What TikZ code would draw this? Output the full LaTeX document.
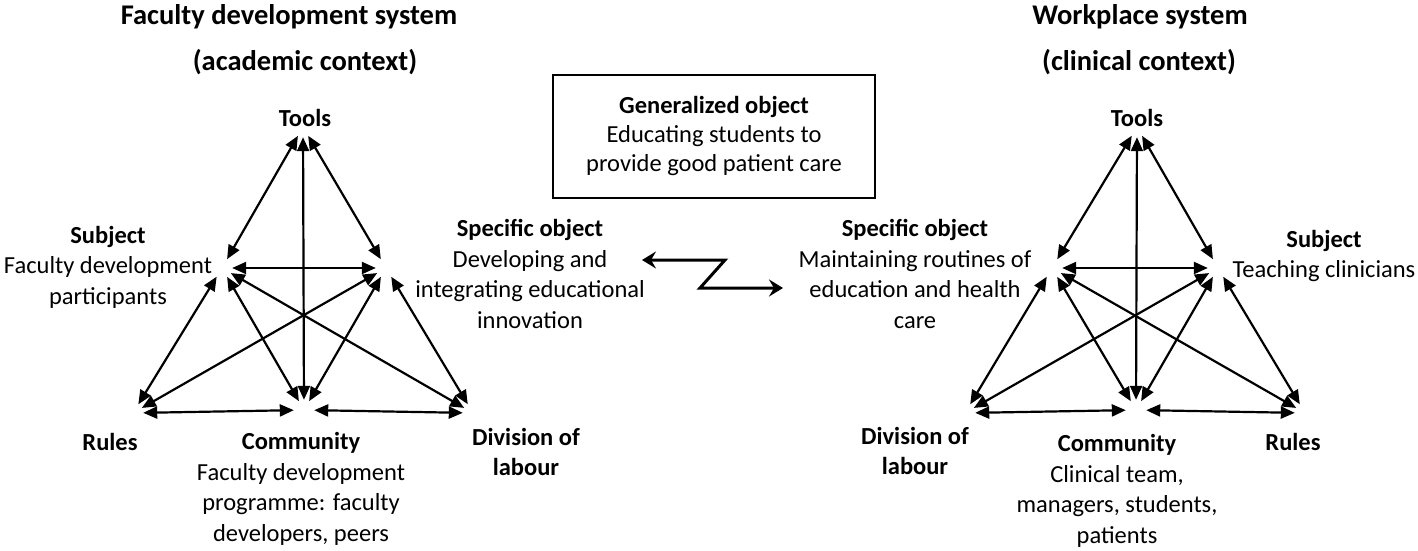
\documentclass[tikz,border=0pt]{standalone}
\usepackage{fontspec}
\setmainfont{Carlito}
\usetikzlibrary{arrows.meta}
\begin{document}
\begin{tikzpicture}[x=1pt,y=-1pt,
  txt/.style={inner sep=0pt,align=center,font=\fontsize{24.5}{30.5}\selectfont},
  ttl/.style={inner sep=0pt,font=\fontsize{28.5}{32}\selectfont\bfseries},
  vtx/.style={circle,inner sep=0pt,minimum size=20pt},
  arr/.style={line width=2.2pt,{Triangle[length=14pt,width=12pt]}-{Triangle[length=14pt,width=12pt]}},
  zz/.style={line width=3pt,line join=miter,{Stealth[length=14pt,width=17pt,inset=5pt]}-{Stealth[length=14pt,width=17pt,inset=5pt]}},
  boxst/.style={draw,line width=2pt,inner sep=0pt,minimum width=322pt,minimum height=123pt,align=center,font=\fontsize{24.5}{29}\selectfont}
]
\useasboundingbox (0,0) rectangle (1418,551);

% titles
\node[ttl] (lt1) at (289,17) {Faculty development system};
\node[ttl] (lt2) at (305,62) {(academic context)};
\node[ttl] (rt1) at (1140,17) {Workplace system};
\node[ttl] (rt2) at (1139,62) {(clinical context)};

% generalized object box
\node[boxst] (gen) at (714,136.5) {\textbf{Generalized object}\\Educating students to\\provide good patient care};

% left vertices
\node[vtx] (lT) at (303,127) {};
\node[vtx] (lS) at (222,268) {};
\node[vtx] (lO) at (386,268) {};
\node[vtx] (lR) at (133,413) {};
\node[vtx] (lC) at (304,410) {};
\node[vtx] (lD) at (473,413) {};
% right vertices
\node[vtx] (rT) at (1137,127) {};
\node[vtx] (rS) at (1052,268) {};
\node[vtx] (rO) at (1218,268) {};
\node[vtx] (rR) at (965,413) {};
\node[vtx] (rC) at (1136,410) {};
\node[vtx] (rD) at (1305,413) {};

\foreach \p in {l,r}{
  \foreach \a/\b in {T/S,T/O,T/C,S/O,S/R,S/C,S/D,O/R,O/C,O/D,R/C,C/D}{
    \draw[arr] (\p\a) -- (\p\b);
  }
}

% left labels
\node[txt] (lTl) at (305,118) {\textbf{Tools}};
\node[txt] (lSl) at (108,267) {\textbf{Subject}\\Faculty development\\participants};
\node[txt] (lOl) at (530,274) {\textbf{Specific object}\\Developing and\\integrating educational\\innovation};
\node[txt] (lRl) at (110,442) {\textbf{Rules}};
\node[txt] (lCl) at (301,489) {\textbf{Community}\\Faculty development\\programme: faculty\\developers, peers};
\node[txt] (lDl) at (526,452) {\textbf{Division of}\\\textbf{labour}};

% right labels
\node[txt] (rTl) at (1137,118) {\textbf{Tools}};
\node[txt] (rOl) at (915,274) {\textbf{Specific object}\\Maintaining routines of\\education and health\\care};
\node[txt] (rSl) at (1324,256) {\textbf{Subject}\\Teaching clinicians};
\node[txt] (rDl) at (915,451) {\textbf{Division of}\\\textbf{labour}};
\node[txt] (rCl) at (1117,491) {\textbf{Community}\\Clinical team,\\managers, students,\\patients};
\node[txt] (rRl) at (1293,442) {\textbf{Rules}};

% zigzag connector
\coordinate (zl) at (642,260);
\coordinate (zm1) at (725,260);
\coordinate (zm2) at (700,288);
\coordinate (zr) at (783,288);
\draw[zz] (zl) -- (zm1) -- (zm2) -- (zr);
\end{tikzpicture}
\end{document}
